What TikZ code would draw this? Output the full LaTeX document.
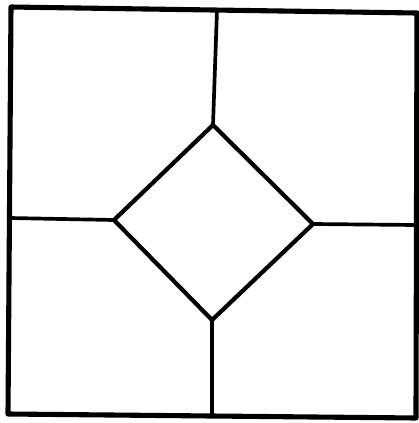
\documentclass[tikz,border=0pt]{standalone}
\usepackage{tikz}
\usetikzlibrary{calc}

\begin{document}
\begin{tikzpicture}[
  x=0.1mm, y=-0.1mm,
  frame/.style={draw, line width=1.45pt, line join=round},
  inner/.style={draw, line width=1.2pt, line join=round},
  spoke/.style={draw, line width=1.05pt}
]
\useasboundingbox (0,0) rectangle (419,423);
% outer frame corners
\coordinate (tl) at (11,7);
\coordinate (tr) at (417,13);
\coordinate (br) at (416,418);
\coordinate (bl) at (8,414);
% diamond corners
\coordinate (dtop) at (213,125);
\coordinate (dleft) at (114,220);
\coordinate (dright) at (313,224);
\coordinate (dbot) at (212,320);
% where the spokes meet the frame
\coordinate (etop) at (217,10);
\coordinate (eleft) at (10,218);
\coordinate (eright) at (416,225);
\coordinate (ebot) at (212,416);

\path[frame] (tl) -- (tr) -- (br) -- (bl) -- cycle;
\path[inner] (dtop) -- (dright) -- (dbot) -- (dleft) -- cycle;
\path[spoke] (dtop) -- (etop);
\path[spoke] (dleft) -- (eleft);
\path[spoke] (dright) -- (eright);
\path[spoke] (dbot) -- (ebot);
\end{tikzpicture}
\end{document}
